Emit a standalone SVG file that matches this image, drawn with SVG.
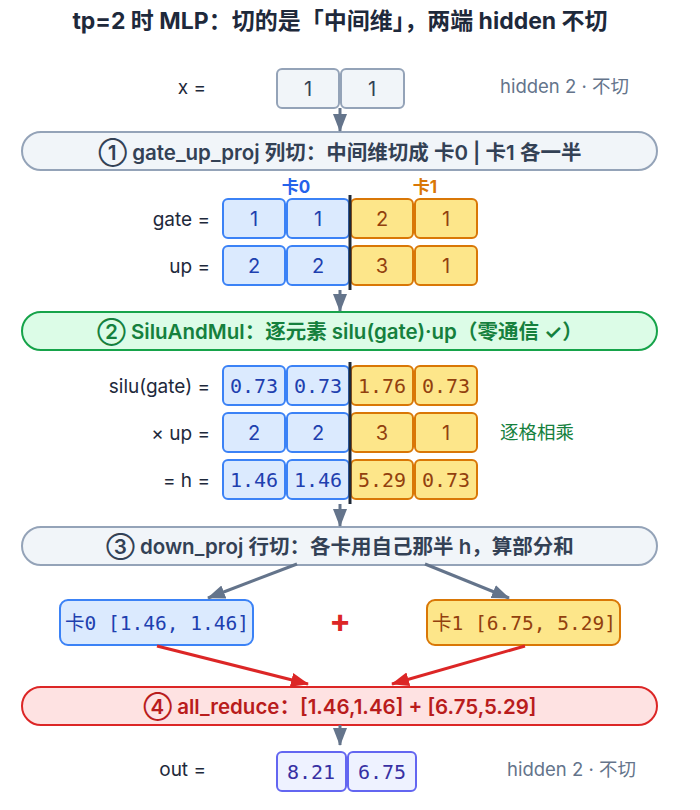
<svg xmlns="http://www.w3.org/2000/svg" width="700" height="810" viewBox="0 0 700 810">
<style>
text{font-family:Inter,"Noto Sans CJK SC","Liberation Sans",sans-serif;}
.title{font-size:23px;font-weight:700;fill:#1e293b;text-anchor:middle;}
.lbl{font-size:19px;fill:#1e293b;text-anchor:end;dominant-baseline:central;}
.note{font-size:18.5px;fill:#64748b;dominant-baseline:central;}
.step{font-size:20.5px;font-weight:600;text-anchor:middle;dominant-baseline:central;}
.cell{font-size:20px;text-anchor:middle;dominant-baseline:central;}
.mono{font-family:"DejaVu Sans Mono","Liberation Mono","Noto Sans CJK SC",monospace;font-size:20px;}
.card{font-size:19.5px;}
.b{fill:#dbeafe;stroke:#3b82f6;stroke-width:2;}
.bt{fill:#1e40af;}
.o{fill:#fde68a;stroke:#d97706;stroke-width:2;}
.ot{fill:#92400e;}
.g{fill:#f1f5f9;stroke:#94a3b8;stroke-width:2;}
.gt{fill:#334155;}
.i{fill:#eef2ff;stroke:#6366f1;stroke-width:2;}
.it{fill:#3730a3;}
.div{stroke:#1f2937;stroke-width:3;}
.hdr{font-size:17px;font-weight:700;text-anchor:middle;dominant-baseline:central;}
</style>
<defs>
<marker id="ag" markerUnits="userSpaceOnUse" markerWidth="18" markerHeight="18" viewBox="0 0 18 18" refX="17" refY="9" orient="auto"><path d="M0,2 L18,9 L0,16 Z" fill="#64748b"/></marker>
<marker id="ar" markerUnits="userSpaceOnUse" markerWidth="18" markerHeight="18" viewBox="0 0 18 18" refX="17" refY="9" orient="auto"><path d="M0,2 L18,9 L0,16 Z" fill="#dc2626"/></marker>
</defs>
<text class="title" x="340" y="29">tp=2 时 MLP：切的是「中间维」，两端 hidden 不切</text>

<g id="x-row">
<text class="lbl" x="206" y="87">x =</text>
<rect class="g" x="277" y="69" width="62" height="39" rx="5"/>
<rect class="g" x="341" y="69" width="63" height="39" rx="5"/>
<text class="cell gt" x="308" y="89">1</text>
<text class="cell gt" x="372" y="89">1</text>
<text class="note" x="500" y="86">hidden 2 · 不切</text>
</g>

<g id="step1">
<rect class="g" x="22" y="132" width="635" height="38" rx="19"/>
<text class="step gt" x="340" y="152">① gate_up_proj 列切：中间维切成 卡0 | 卡1 各一半</text>
</g>

<g id="gate-up">
<text class="hdr" x="296" y="187" style="fill:#2563eb">卡0</text>
<text class="hdr" x="425" y="187" style="fill:#d97706">卡1</text>
<text class="lbl" x="210" y="219">gate =</text>
<rect class="b" x="223" y="199" width="62" height="39" rx="5"/>
<rect class="b" x="287" y="199" width="62" height="39" rx="5"/>
<rect class="o" x="351" y="199" width="62" height="39" rx="5"/>
<rect class="o" x="415" y="199" width="62" height="39" rx="5"/>
<text class="cell bt" x="254" y="219">1</text>
<text class="cell bt" x="318" y="219">1</text>
<text class="cell ot" x="382" y="219">2</text>
<text class="cell ot" x="446" y="219">1</text>
<text class="lbl" x="210" y="266">up =</text>
<rect class="b" x="223" y="246" width="62" height="39" rx="5"/>
<rect class="b" x="287" y="246" width="62" height="39" rx="5"/>
<rect class="o" x="351" y="246" width="62" height="39" rx="5"/>
<rect class="o" x="415" y="246" width="62" height="39" rx="5"/>
<text class="cell bt" x="254" y="266">2</text>
<text class="cell bt" x="318" y="266">2</text>
<text class="cell ot" x="382" y="266">3</text>
<text class="cell ot" x="446" y="266">1</text>
<line class="div" x1="350" y1="195" x2="350" y2="290"/>
</g>

<g id="step2">
<rect x="22" y="312" width="635" height="38" rx="19" style="fill:#dcfce7;stroke:#16a34a;stroke-width:2"/>
<text class="step" x="340" y="331" style="fill:#15803d">② SiluAndMul：逐元素 silu(gate)·up（零通信 ✓）</text>
</g>

<g id="silu-rows">
<text class="lbl" x="210" y="386">silu(gate) =</text>
<rect class="b" x="223" y="366" width="62" height="39" rx="5"/>
<rect class="b" x="287" y="366" width="62" height="39" rx="5"/>
<rect class="o" x="351" y="366" width="62" height="39" rx="5"/>
<rect class="o" x="415" y="366" width="62" height="39" rx="5"/>
<text class="cell mono bt" x="254" y="386">0.73</text>
<text class="cell mono bt" x="318" y="386">0.73</text>
<text class="cell mono ot" x="382" y="386">1.76</text>
<text class="cell mono ot" x="446" y="386">0.73</text>
<text class="lbl" x="210" y="433">× up =</text>
<rect class="b" x="223" y="413" width="62" height="39" rx="5"/>
<rect class="b" x="287" y="413" width="62" height="39" rx="5"/>
<rect class="o" x="351" y="413" width="62" height="39" rx="5"/>
<rect class="o" x="415" y="413" width="62" height="39" rx="5"/>
<text class="cell bt" x="254" y="433">2</text>
<text class="cell bt" x="318" y="433">2</text>
<text class="cell ot" x="382" y="433">3</text>
<text class="cell ot" x="446" y="433">1</text>
<text class="note" x="500" y="432" style="fill:#15803d">逐格相乘</text>
<text class="lbl" x="210" y="480">= h =</text>
<rect class="b" x="223" y="460" width="62" height="39" rx="5"/>
<rect class="b" x="287" y="460" width="62" height="39" rx="5"/>
<rect class="o" x="351" y="460" width="62" height="39" rx="5"/>
<rect class="o" x="415" y="460" width="62" height="39" rx="5"/>
<text class="cell mono bt" x="254" y="480">1.46</text>
<text class="cell mono bt" x="318" y="480">1.46</text>
<text class="cell mono ot" x="382" y="480">5.29</text>
<text class="cell mono ot" x="446" y="480">0.73</text>
<line class="div" x1="350" y1="362" x2="350" y2="504"/>
</g>

<g id="step3">
<rect class="g" x="22" y="527" width="635" height="38" rx="19"/>
<text class="step gt" x="340" y="546">③ down_proj 行切：各卡用自己那半 h，算部分和</text>
</g>

<g id="card0">
<rect class="b" x="60" y="600" width="193" height="45" rx="8"/>
<text class="cell mono card bt" x="157" y="623">卡0 [1.46, 1.46]</text>
</g>
<g id="plus">
<text x="340" y="620" style="font-size:32px;font-weight:700;fill:#dc2626;text-anchor:middle;dominant-baseline:central">+</text>
</g>
<g id="card1">
<rect class="o" x="427" y="600" width="193" height="45" rx="8"/>
<text class="cell mono card ot" x="524" y="623">卡1 [6.75, 5.29]</text>
</g>

<g id="step4">
<rect x="22" y="687" width="635" height="38" rx="19" style="fill:#fee2e2;stroke:#dc2626;stroke-width:2"/>
<text class="step" x="340" y="706" style="fill:#b91c1c">④ all_reduce：[1.46,1.46] + [6.75,5.29]</text>
</g>

<g id="out-row">
<text class="lbl" x="206" y="769">out =</text>
<rect class="i" x="277" y="752" width="69" height="39" rx="5"/>
<rect class="i" x="348" y="752" width="68" height="39" rx="5"/>
<text class="cell mono it" x="311" y="772">8.21</text>
<text class="cell mono it" x="382" y="772">6.75</text>
<text class="note" x="507" y="769">hidden 2 · 不切</text>
</g>

<g id="connectors" stroke-width="3" fill="none">
<line x1="340" y1="108" x2="340" y2="131" stroke="#64748b" marker-end="url(#ag)"/>
<line x1="340" y1="290" x2="340" y2="311" stroke="#64748b" marker-end="url(#ag)"/>
<line x1="340" y1="504" x2="340" y2="526" stroke="#64748b" marker-end="url(#ag)"/>
<line x1="297" y1="564" x2="208" y2="598" stroke="#64748b" marker-end="url(#ag)"/>
<line x1="425" y1="564" x2="509" y2="598" stroke="#64748b" marker-end="url(#ag)"/>
<line x1="157" y1="646" x2="308" y2="684" stroke="#dc2626" marker-end="url(#ar)"/>
<line x1="525" y1="646" x2="392" y2="684" stroke="#dc2626" marker-end="url(#ar)"/>
<line x1="340" y1="725" x2="340" y2="745" stroke="#64748b" marker-end="url(#ag)"/>
</g>
</svg>
